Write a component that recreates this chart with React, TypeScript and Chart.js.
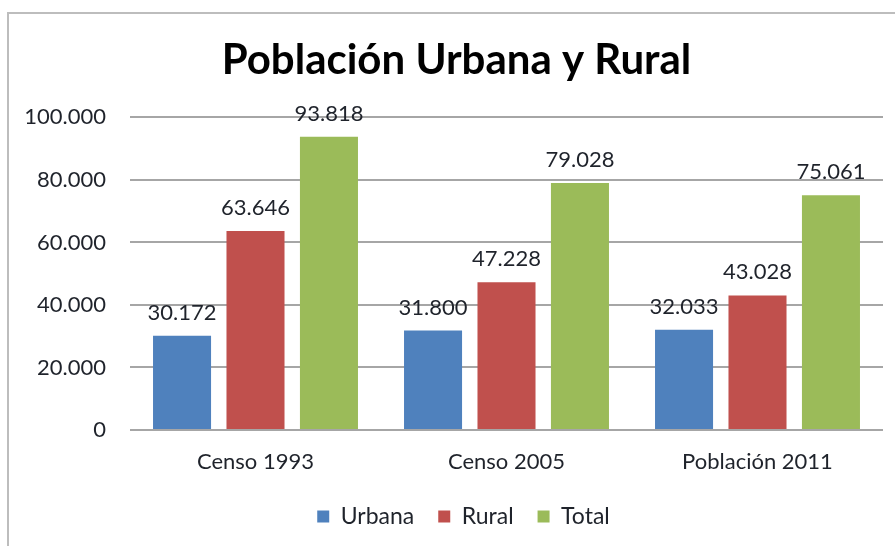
import React, { useEffect, useRef } from "react";
import { Chart, registerables } from "chart.js";

Chart.register(...registerables);

const categories = ["Censo 1993", "Censo 2005", "Población 2011"];
const urbana = [30172, 31800, 32033];
const rural = [63646, 47228, 43028];
const total = [93818, 79028, 75061];
const seriesNames = ["Urbana", "Rural", "Total"];
const seriesColors = ["#4F81BD", "#C0504D", "#9BBB59"];
const titleText = "Población Urbana y Rural";

const fmt = (n: number) =>
  Math.round(n).toString().replace(/\B(?=(\d{3})+(?!\d))/g, ".");

const FONT = "Lato, 'Noto Sans', sans-serif";
const TEXT = "#1f232b";

const valueLabels = {
  id: "valueLabels",
  afterDatasetsDraw(chart: any) {
    const ctx = chart.ctx;
    ctx.save();
    ctx.font = `22px ${FONT}`;
    ctx.fillStyle = TEXT;
    ctx.textAlign = "center";
    ctx.textBaseline = "alphabetic";
    chart.data.datasets.forEach((ds: any, di: number) => {
      const meta = chart.getDatasetMeta(di);
      meta.data.forEach((bar: any, i: number) => {
        ctx.fillText(fmt(ds.data[i]), bar.x, bar.y - 16);
      });
    });
    ctx.restore();
  },
};

// Centre title and legend the way the original does (slightly right of the canvas centre)
const shiftBlocks = {
  id: "shiftBlocks",
  afterLayout(chart: any) {
    if (chart.titleBlock) chart.titleBlock.left = 30;
    if (chart.legend) chart.legend.left = 44;
  },
};

export default function App() {
  const ref = useRef<HTMLCanvasElement>(null);
  useEffect(() => {
    const data = [urbana, rural, total];
    const chart = new Chart(ref.current as HTMLCanvasElement, {
      type: "bar",
      data: {
        labels: categories,
        datasets: seriesNames.map((name, i) => ({
          label: name,
          data: data[i],
          backgroundColor: seriesColors[i],
          borderWidth: 0,
          categoryPercentage: 0.878,
          barPercentage: 0.79,
        })),
      },
      options: {
        animation: false,
        responsive: false,
        maintainAspectRatio: false,
        layout: { padding: { left: 0, right: 12, top: 0, bottom: 8 } },
        plugins: {
          title: {
            display: true,
            text: titleText,
            color: "#000",
            font: { family: FONT, size: 42, weight: "bold" },
            padding: { top: 35, bottom: 32 },
          },
          legend: {
            position: "bottom",
            labels: {
              boxWidth: 12,
              boxHeight: 12,
              padding: 24,
              color: TEXT,
              font: { family: FONT, size: 23 },
            },
          },
          tooltip: { enabled: false },
        },
        scales: {
          x: {
            grid: { display: false, drawTicks: false },
            border: { display: false },
            ticks: { color: TEXT, font: { family: FONT, size: 22 }, padding: 19 },
            afterFit: (s: any) => {
              s.height = 51;
            },
          },
          y: {
            min: 0,
            max: 100000,
            ticks: {
              stepSize: 20000,
              color: TEXT,
              font: { family: FONT, size: 22 },
              padding: 24,
              callback: (v: any) => fmt(Number(v)),
            },
            grid: { color: "#a6a6a6", lineWidth: 2, drawTicks: false },
            border: { display: false },
            afterFit: (s: any) => {
              s.width = 130;
            },
          },
        },
      },
      plugins: [valueLabels, shiftBlocks],
    });
    return () => chart.destroy();
  }, []);
  return (
    <div style={{ position: "absolute", left: 0, top: 0, width: 895, height: 546, overflow: "hidden", background: "#fff" }}>
      <canvas ref={ref} width={895} height={546} style={{ position: "absolute", left: 0, top: 0 }} />
      <div
        style={{
          position: "absolute",
          left: 7,
          top: 12,
          width: 900,
          height: 600,
          borderLeft: "2px solid #bdbdbd",
          borderTop: "2px solid #bdbdbd",
          pointerEvents: "none",
        }}
      />
    </div>
  );
}
